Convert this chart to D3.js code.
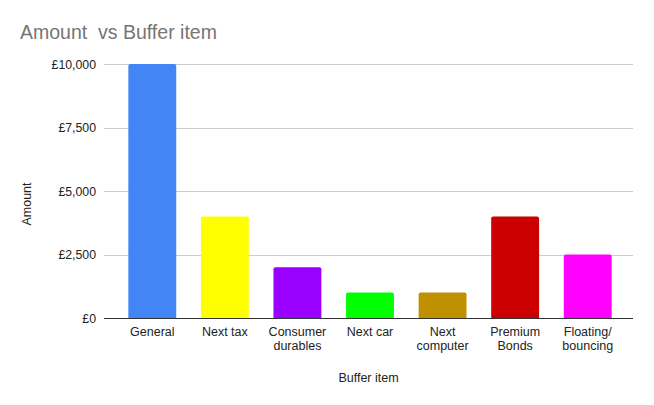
<!DOCTYPE html>
<html><head><meta charset="utf-8">
<script src="https://cdn.jsdelivr.net/npm/d3@7/dist/d3.min.js"></script>
<style>body{margin:0;background:#fff}svg{display:block;font-family:"Liberation Sans",Arial,sans-serif}text{white-space:pre}</style>
</head><body><svg id="c" width="654" height="405"></svg>
<script>
const categories = [["General"],["Next tax"],["Consumer","durables"],["Next car"],["Next","computer"],["Premium","Bonds"],["Floating/","bouncing"]];
const amounts = [10000, 4000, 2000, 1000, 1000, 4000, 2500];
const colors = ["#4285f4","#ffff00","#9900ff","#00ff00","#bf9000","#cc0000","#ff00ff"];
const yTicks = [0, 2500, 5000, 7500, 10000];

const svg = d3.select("#c");
const pLeft = 104, pRight = 633, pTop = 64, pBottom = 318;
const idx = categories.map((d,i)=>i);
const x = d3.scaleBand().domain(idx).range([116, 624]).paddingInner(0.34).paddingOuter(0.17);
const y = d3.scaleLinear().domain([0, 10000]).range([pBottom, pTop]);
const fmt = v => "£" + d3.format(",")(v);

svg.append("text").attr("x", 20).attr("y", 39).attr("font-size", 19.5).attr("fill", "#757575").text("Amount  vs Buffer item");

svg.append("g").selectAll("line").data(yTicks.filter(t=>t>0)).join("line")
  .attr("x1", pLeft).attr("x2", pRight).attr("y1", d=>Math.round(y(d))+0.5).attr("y2", d=>Math.round(y(d))+0.5)
  .attr("stroke", "#cccccc").attr("stroke-width", 1);

svg.append("g").selectAll("text").data(yTicks).join("text")
  .attr("x", 96).attr("y", d=>y(d)+4.5).attr("text-anchor", "end").attr("font-size", 12.3).attr("fill", "#222")
  .text(fmt);

const r = 2;
svg.append("g").selectAll("path").data(amounts).join("path")
  .attr("fill", (d,i)=>colors[i])
  .attr("d", (d,i)=>{
    const x0 = x(i), w = x.bandwidth(), y0 = y(d), y1 = y(0);
    return `M${x0},${y1}V${y0+r}Q${x0},${y0} ${x0+r},${y0}H${x0+w-r}Q${x0+w},${y0} ${x0+w},${y0+r}V${y1}Z`;
  });

svg.append("line").attr("x1", pLeft).attr("x2", pRight).attr("y1", pBottom+0.5).attr("y2", pBottom+0.5).attr("stroke", "#333").attr("stroke-width", 1);

const xl = svg.append("g").selectAll("text").data(categories).join("text")
  .attr("text-anchor", "middle").attr("font-size", 12.5).attr("fill", "#222")
  .attr("transform", (d,i)=>`translate(${x(i)+x.bandwidth()/2},336)`);
xl.selectAll("tspan").data(d=>d).join("tspan").attr("x", 0).attr("y", (d,j)=>j*14).text(d=>d);

svg.append("text").attr("x", (pLeft+pRight)/2).attr("y", 382).attr("text-anchor", "middle").attr("font-size", 12.5).attr("fill", "#222").text("Buffer item");
svg.append("text").attr("transform", "translate(31,204) rotate(-90)").attr("text-anchor", "middle").attr("font-size", 12.5).attr("fill", "#222").text("Amount");
</script></body></html>
